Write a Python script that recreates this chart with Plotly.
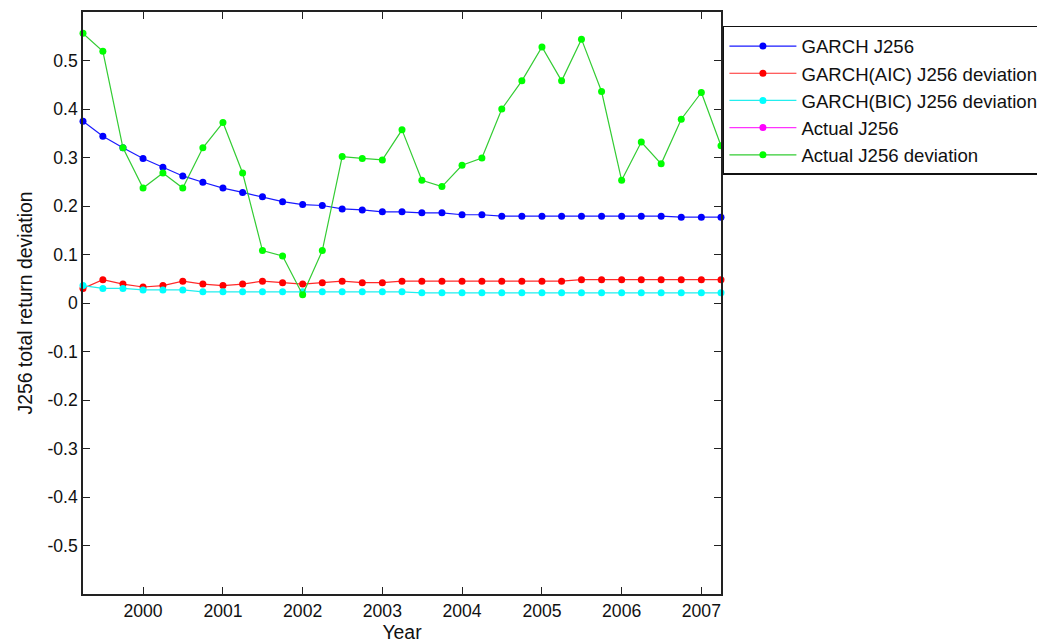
import plotly.graph_objects as go
import pandas as pd

# Quarterly dates from 1999-04-01 to 2007-04-01
dates = pd.date_range("1999-04-01", "2007-04-01", freq="QS").strftime("%Y-%m-%d").tolist()

garch = [0.375, 0.344, 0.320, 0.298, 0.280, 0.262, 0.249, 0.237, 0.228, 0.219,
         0.209, 0.203, 0.201, 0.194, 0.192, 0.188, 0.188, 0.186, 0.186, 0.182,
         0.182, 0.179, 0.179, 0.179, 0.179, 0.179, 0.179, 0.179, 0.179, 0.179,
         0.177, 0.177, 0.177]
garch_aic = [0.030, 0.048, 0.039, 0.033, 0.036, 0.045, 0.039, 0.036, 0.039, 0.045,
             0.042, 0.039, 0.042, 0.045, 0.042, 0.042, 0.045, 0.045, 0.045, 0.045,
             0.045, 0.045, 0.045, 0.045, 0.045, 0.048, 0.048, 0.048, 0.048, 0.048,
             0.048, 0.048, 0.048]
garch_bic = [0.036, 0.030, 0.030, 0.027, 0.027, 0.027, 0.023, 0.023, 0.023, 0.023,
             0.023, 0.023, 0.023, 0.023, 0.023, 0.023, 0.023, 0.021, 0.021, 0.021,
             0.021, 0.021, 0.021, 0.021, 0.021, 0.021, 0.021, 0.021, 0.021, 0.021,
             0.021, 0.021, 0.021]
actual = [None] * 33
actual_dev = [0.556, 0.519, 0.320, 0.237, 0.268, 0.237, 0.320, 0.372, 0.268, 0.108,
              0.097, 0.017, 0.108, 0.302, 0.298, 0.295, 0.357, 0.253, 0.240, 0.284,
              0.299, 0.400, 0.458, 0.528, 0.458, 0.544, 0.436, 0.253, 0.332, 0.287,
              0.379, 0.434, 0.324]

series_names = ["GARCH J256", "GARCH(AIC) J256 deviation", "GARCH(BIC) J256 deviation",
                "Actual J256", "Actual J256 deviation"]
marker_colors = ["#0000ff", "#ff0000", "#00ffff", "#ff00ff", "#00ff00"]
line_colors = ["#1a1aff", "#ff2a2a", "#22eeee", "#ff33ff", "#33cc33"]
series_values = [garch, garch_aic, garch_bic, actual, actual_dev]

year_ticks = ["%d-01-01" % y for y in range(2000, 2008)]
year_labels = [str(y) for y in range(2000, 2008)]
y_ticks = [-0.5, -0.4, -0.3, -0.2, -0.1, 0, 0.1, 0.2, 0.3, 0.4, 0.5]
y_labels = ["-0.5", "-0.4", "-0.3", "-0.2", "-0.1", "0", "0.1", "0.2", "0.3", "0.4", "0.5"]

FONT = "Liberation Sans, Arial, Helvetica, sans-serif"

fig = go.Figure()
for name, mcol, lcol, vals in zip(series_names, marker_colors, line_colors, series_values):
    fig.add_trace(go.Scatter(
        x=dates, y=vals, name=name, mode="lines+markers",
        line=dict(color=lcol, width=1.2),
        marker=dict(color=mcol, size=7),
        cliponaxis=False,
    ))

axis_common = dict(
    showline=True, linecolor="#222222", linewidth=1.5, mirror="ticks",
    ticks="inside", ticklen=7, tickwidth=1, tickcolor="#222222",
    showgrid=False, zeroline=False, automargin=False,
    tickfont=dict(family=FONT, size=17.6, color="#111111"),
)

fig.update_layout(
    width=1037, height=643,
    margin=dict(l=83, r=316, t=12, b=49, autoexpand=False),
    paper_bgcolor="white", plot_bgcolor="white",
    font=dict(family=FONT, color="#111111"),
    xaxis=dict(
        type="date", range=["1999-04-01", "2007-04-01"],
        tickmode="array", tickvals=year_ticks, ticktext=year_labels,
        title=dict(text="Year", font=dict(family=FONT, size=19.4), standoff=0),
        **axis_common,
    ),
    yaxis=dict(
        range=[-0.6, 0.6],
        tickmode="array", tickvals=y_ticks, ticktext=y_labels,
        title=dict(text="J256 total return deviation", font=dict(family=FONT, size=19.4), standoff=10),
        **axis_common,
    ),
    legend=dict(
        x=1.003, y=0.976, xanchor="left", yanchor="top",
        bgcolor="white", bordercolor="#111111", borderwidth=1.5,
        font=dict(family=FONT, size=18.6, color="#111111"),
        itemwidth=67,
    ),
    showlegend=True,
)

fig.write_html("out.html")
